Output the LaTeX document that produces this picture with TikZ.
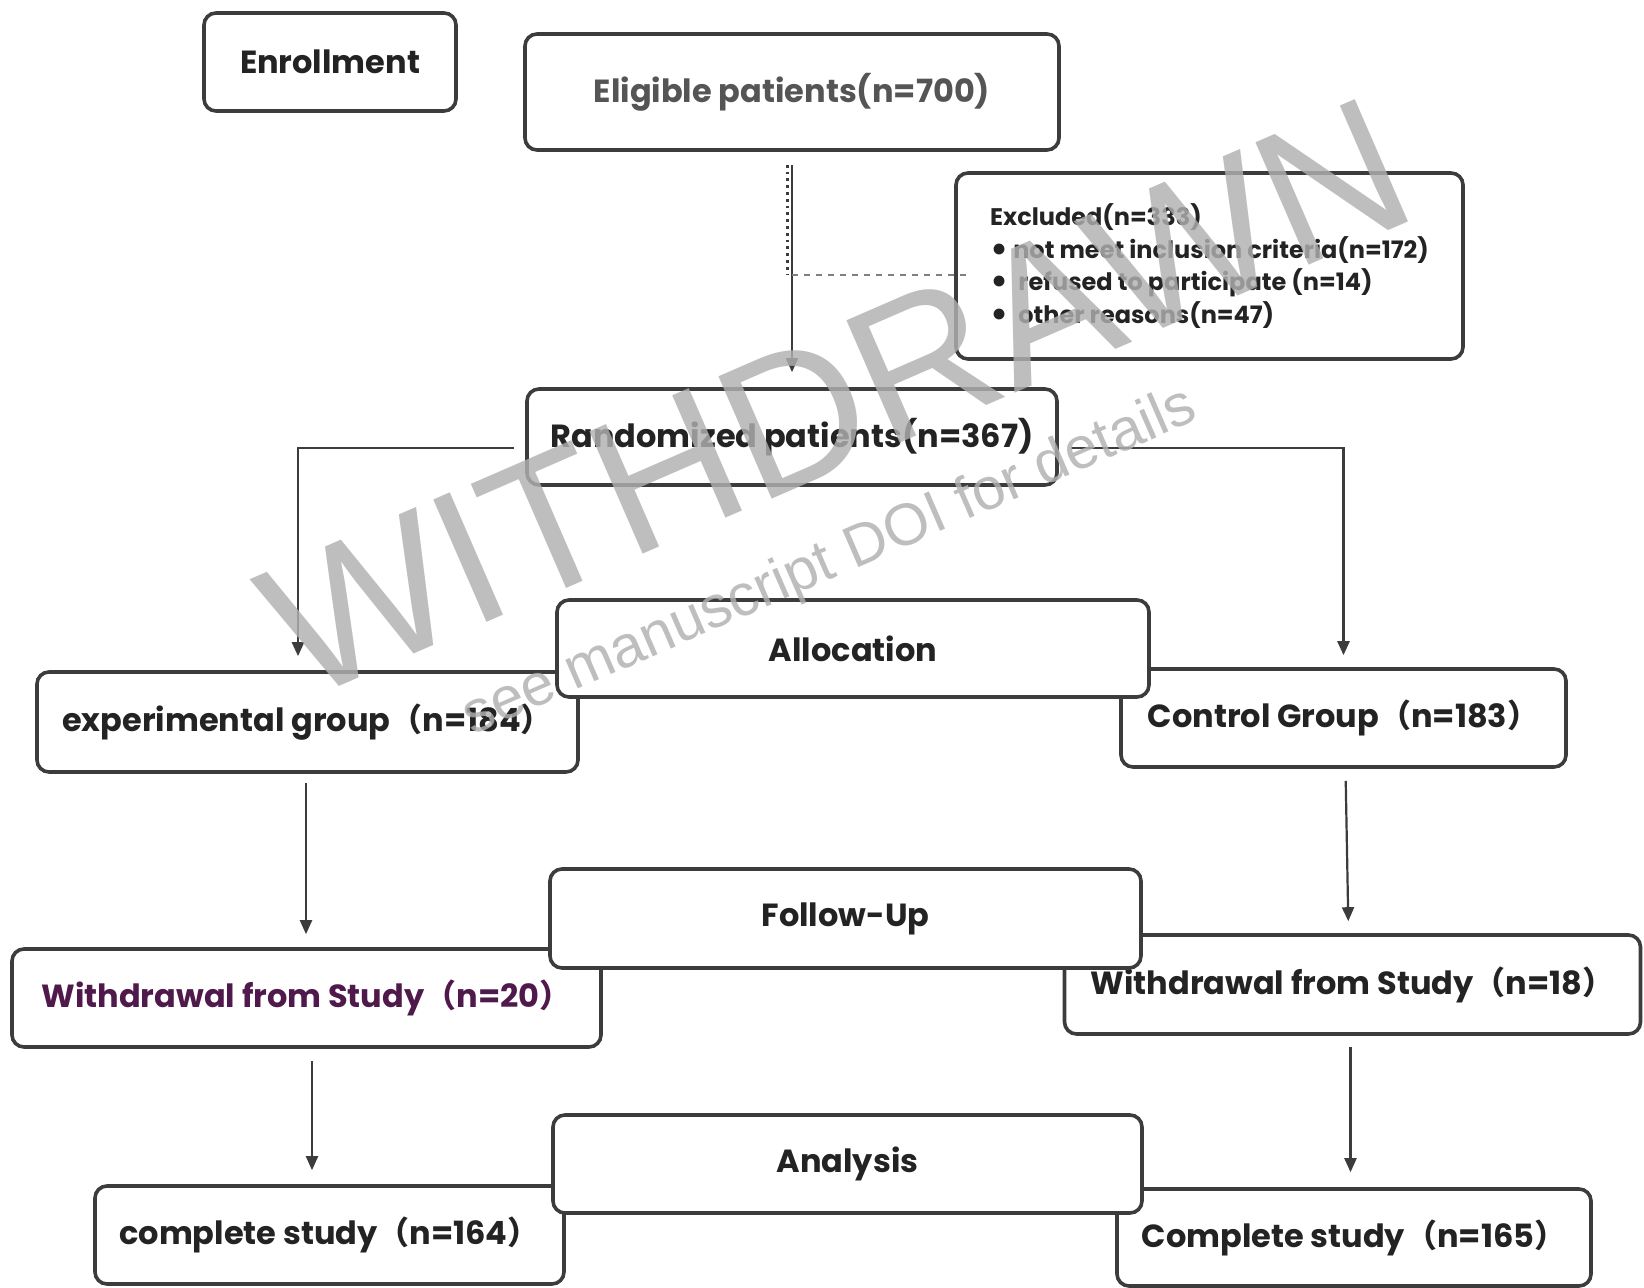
\documentclass[tikz,border=0pt]{standalone}
\usepackage{fontspec}
\setmainfont{Poppins}
\newfontfamily\wmfont{Liberation Sans}
\newfontfamily\cjk{Noto Sans CJK SC}
\usetikzlibrary{arrows.meta,calc}
\definecolor{linec}{RGB}{60,60,60}
\definecolor{txtc}{RGB}{35,35,35}
\definecolor{graytxt}{RGB}{85,85,85}
\definecolor{purp}{RGB}{80,25,75}
\definecolor{wmc}{RGB}{176,176,176}
\newcommand{\lp}{{\cjk （}}
\newcommand{\rp}{{\cjk ）}}
\newcommand{\bul}{\raisebox{-1.6pt}{\fontsize{18}{16}\selectfont •}}
\tikzset{
  box/.style={draw=linec, line width=1.8pt, rounded corners=6pt, fill=white,
    text=txtc, font=\bfseries\fontsize{16}{19}\selectfont, inner sep=0pt, align=center},
  arr/.style={draw=linec, line width=1.1pt, -{Triangle[length=7pt,width=6pt]}},
  wm/.style={text=wmc, text opacity=0.82, font=\wmfont, inner sep=0pt}
}
\begin{document}
\begin{tikzpicture}[x=0.5pt,y=-0.5pt]
\useasboundingbox (0,0) rectangle (1644,1288);
% enrollment
\node[box, minimum width=126pt, minimum height=49pt] (enroll) at (330,62) {Enrollment};
\node[box, minimum width=267pt, minimum height=58pt, text=graytxt] (elig) at (792,92) {Eligible patients(n=700)};
\node[box, minimum width=253.5pt, minimum height=93pt, align=left,
  font=\bfseries\fontsize{12}{16.25}\selectfont] (excl) at (1209.5,266)
  {Excluded(n=333)\\\bul\ not meet inclusion criteria(n=172)\\\bul\ \ refused to participate (n=14)\\\bul\ \ other reasons(n=47)};
\node[box, minimum width=265pt, minimum height=48pt] (rand) at (792,437) {Randomized patients(n=367)};
% main arrow
\coordinate (br) at (792,275);
\draw[arr, shorten <=6.5pt, shorten >=7.5pt] (elig.south) -- (rand.north);
\draw[draw=linec, line width=1.4pt, dotted, shorten <=6.5pt] ([xshift=-2.2pt]elig.south) -- ([xshift=-2.2pt]br);
\draw[draw=gray, line width=1.3pt, dash pattern=on 3pt off 3pt] (br) -- ($(br -| excl.west)+(6pt,0)$);
% groups
\node[box, minimum width=270.5pt, minimum height=50pt] (exp) at (307.5,722) {experimental group\lp n=184\rp};
\node[box, minimum width=222.5pt, minimum height=49pt] (ctrl) at (1343.5,718) {Control Group\lp n=183\rp};
\node[box, minimum width=296pt, minimum height=48.5pt] (alloc) at (853,648.5) {Allocation};
\draw[arr, line width=1.3pt, shorten >=7pt] ([xshift=-5.5pt,yshift=-5.5pt]rand.west) -| ([xshift=-4.75pt]exp.north);
\draw[arr, line width=1.3pt, shorten >=6pt] ([xshift=6pt,yshift=-5.5pt]rand.east) -| (ctrl.north);
% follow-up
\node[box, minimum width=294.5pt, minimum height=49pt, text=purp] (wd20) at (306.5,998) {Withdrawal from Study\lp n=20\rp};
\node[box, minimum width=288pt, minimum height=49.5pt] (wd18) at (1352.5,984.5) {Withdrawal from Study\lp n=18\rp};
\node[box, minimum width=295.5pt, minimum height=49.5pt] (follow) at (845.5,918.5) {Follow-Up};
\draw[arr, shorten <=4.5pt, shorten >=6.5pt] ([xshift=-0.75pt]exp.south) -- ([xshift=-0.75pt]exp.south |- wd20.north);
\draw[arr, shorten <=6pt, shorten >=6pt] ([xshift=1pt]ctrl.south) -- ([xshift=-2pt]wd18.north);
% analysis
\node[box, minimum width=234.5pt, minimum height=49pt] (c164) at (329.5,1235) {complete study\lp n=164\rp};
\node[box, minimum width=237pt, minimum height=48.5pt] (c165) at (1354,1237.5) {Complete study\lp n=165\rp};
\node[box, minimum width=294.5pt, minimum height=49pt] (anal) at (847.5,1164) {Analysis};
\draw[arr, shorten <=6pt, shorten >=7pt] ([xshift=2.75pt]wd20.south) -- ([xshift=2.75pt]wd20.south |- c164.north);
\draw[arr, shorten <=5.5pt, shorten >=7.5pt] ([xshift=-1pt]wd18.south) -- ([xshift=-1pt]wd18.south |- c165.north);
% watermark
\node[wm, rotate=23.5, font=\wmfont\fontsize{97}{97}\selectfont] (wm1) at (836,398) {WITHDRAWN};
\node[wm, rotate=23.5, font=\wmfont\fontsize{29.5}{29.5}\selectfont] (wm2) at (830,563) {see manuscript DOI for details};
\end{tikzpicture}
\end{document}
